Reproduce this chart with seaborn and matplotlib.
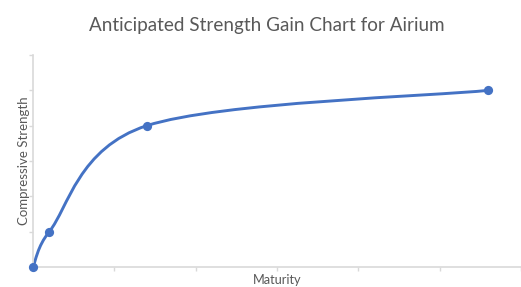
import matplotlib

matplotlib.use("Agg")
import matplotlib.pyplot as plt
import numpy as np
import pandas as pd
import seaborn as sns
from matplotlib.path import Path
from matplotlib.patches import PathPatch

# values (x in days, y in tick units)
maturity = [0, 1, 7, 28]
strength = [0, 1, 4, 5]
x_ticks = [0, 5, 10, 15, 20, 25, 30]
y_ticks = [0, 1, 2, 3, 4, 5, 6]

BLUE = "#4472C4"
GREY = "#595959"
AXIS = "#d9d9d9"


def smooth_path(xs, ys, sx, sy):
    # Excel style smoothed line: Catmull-Rom tangents (1/6), arms capped at half a segment
    p = np.column_stack([np.asarray(xs, float) * sx, np.asarray(ys, float) * sy])
    n = len(p)
    ext = np.vstack([p[0], p, p[-1]])
    verts = [p[0]]
    codes = [Path.MOVETO]
    for i in range(n - 1):
        p0, p1, p2, p3 = ext[i], ext[i + 1], ext[i + 2], ext[i + 3]
        half = np.hypot(*(p2 - p1)) / 2
        a = (p2 - p0) / 6
        b = (p3 - p1) / 6
        la, lb = np.hypot(*a), np.hypot(*b)
        if la > half:
            a = a * half / la
        if lb > half:
            b = b * half / lb
        verts += [p1 + a, p2 - b, p2]
        codes += [Path.CURVE4] * 3
    verts = np.array(verts) / [sx, sy]
    return Path(verts, codes)


def main():
    sns.set_style("white")
    plt.rcParams["font.family"] = ["Lato", "DejaVu Sans"]

    df = pd.DataFrame({"Maturity": maturity, "Strength": strength})

    fig = plt.figure(figsize=(5.21, 2.87), dpi=100)
    ax = fig.add_axes([33 / 521, 20 / 287, 488 / 521, 212 / 287])

    ax.set_xlim(x_ticks[0], x_ticks[-1])
    ax.set_ylim(y_ticks[0], y_ticks[-1])

    px_x = 488 / (x_ticks[-1] - x_ticks[0])
    px_y = 212 / (y_ticks[-1] - y_ticks[0])
    path = smooth_path(df["Maturity"], df["Strength"], px_x, px_y)
    ax.add_patch(PathPatch(path, facecolor="none", edgecolor=BLUE, lw=2.1,
                           capstyle="round", clip_on=False))

    sns.scatterplot(data=df, x="Maturity", y="Strength", color=BLUE, s=44,
                    edgecolor=BLUE, linewidth=0, zorder=3, clip_on=False, ax=ax)

    ax.set_xticks(x_ticks)
    ax.set_yticks(y_ticks)
    ax.set_xticklabels([])
    ax.set_yticklabels([])
    ax.tick_params(axis="both", bottom=True, left=True, length=3, width=1,
                   color=AXIS, direction="out")
    for side in ["top", "right"]:
        ax.spines[side].set_visible(False)
    for side in ["left", "bottom"]:
        ax.spines[side].set_color(AXIS)
        ax.spines[side].set_linewidth(1.2)

    ax.set_xlabel("Maturity", color=GREY, fontsize=9.2)
    ax.xaxis.set_label_coords(0.5, -7 / 212)
    ax.set_ylabel("Compressive Strength", color=GREY, fontsize=9.5, labelpad=-4.5)
    fig.text(0.5115, 1 - 26 / 287, "Anticipated Strength Gain Chart for Airium",
             ha="center", va="center", color=GREY, fontsize=13.6)

    fig.savefig("out.png", dpi=100, facecolor="white")
    plt.close(fig)


if __name__ == "__main__":
    main()
